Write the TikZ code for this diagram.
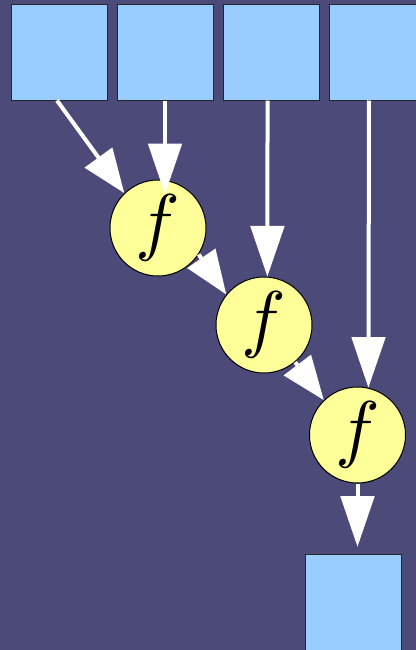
\documentclass[tikz,border=0pt]{standalone}
\usepackage{graphicx}
\usepackage{tikz}
\usetikzlibrary{positioning, arrows.meta}

\definecolor{bgblue}{RGB}{75,74,120}
\definecolor{cellblue}{RGB}{153,204,255}
\definecolor{fyellow}{RGB}{255,255,153}

\newcommand{\bigf}{\scalebox{5.6}{$f$}}

\begin{document}
\begin{tikzpicture}[
  x=0.75pt, y=-0.75pt,
  cell/.style={rectangle, draw=black!85, line width=0.75pt, fill=cellblue,
    minimum size=72pt, inner sep=0pt},
  fun/.style={circle, draw=black, line width=0.75pt, fill=fyellow,
    minimum size=72pt, inner sep=0pt},
  arrow/.style={-{Triangle[width=25pt,length=38pt]}, line width=3pt, white},
  slant/.style={-{Triangle[width=25pt,length=33pt]}, line width=3pt, white},
]
  \fill[bgblue] (0,0) rectangle (416,650);
  \useasboundingbox (0,0) rectangle (416,650);

  \node[cell] (x1) at (59,52) {};
  \node[cell, right=6.75pt of x1] (x2) {};
  \node[cell, right=6.75pt of x2] (x3) {};
  \node[cell, right=6.75pt of x3] (x4) {};

  \node[fun] (f1) at (158,228) {\bigf};
  \node[fun] (f2) at (264,325) {\bigf};
  \node[fun] (f3) at (357.5,435) {\bigf};

  \node[cell] (out) at (353,602) {};

  \draw[slant] ([xshift=-1.5pt]x1.south) -- (f1.134);
  \draw[arrow, shorten >=-11pt] (x2.south) -- (x2.south |- f1.north);
  \draw[arrow] ([xshift=-2.6pt]x3.south) -- (f2.86);
  \draw[arrow] ([xshift=-6pt]x4.south) -- (f3.77);
  \draw[slant] (f1.-33) -- (f2.141);
  \draw[slant] (f2.-50) -- (f3.134);
  \draw[arrow, shorten >=5pt] (f3) -- (f3 |- out.north);
\end{tikzpicture}
\end{document}
